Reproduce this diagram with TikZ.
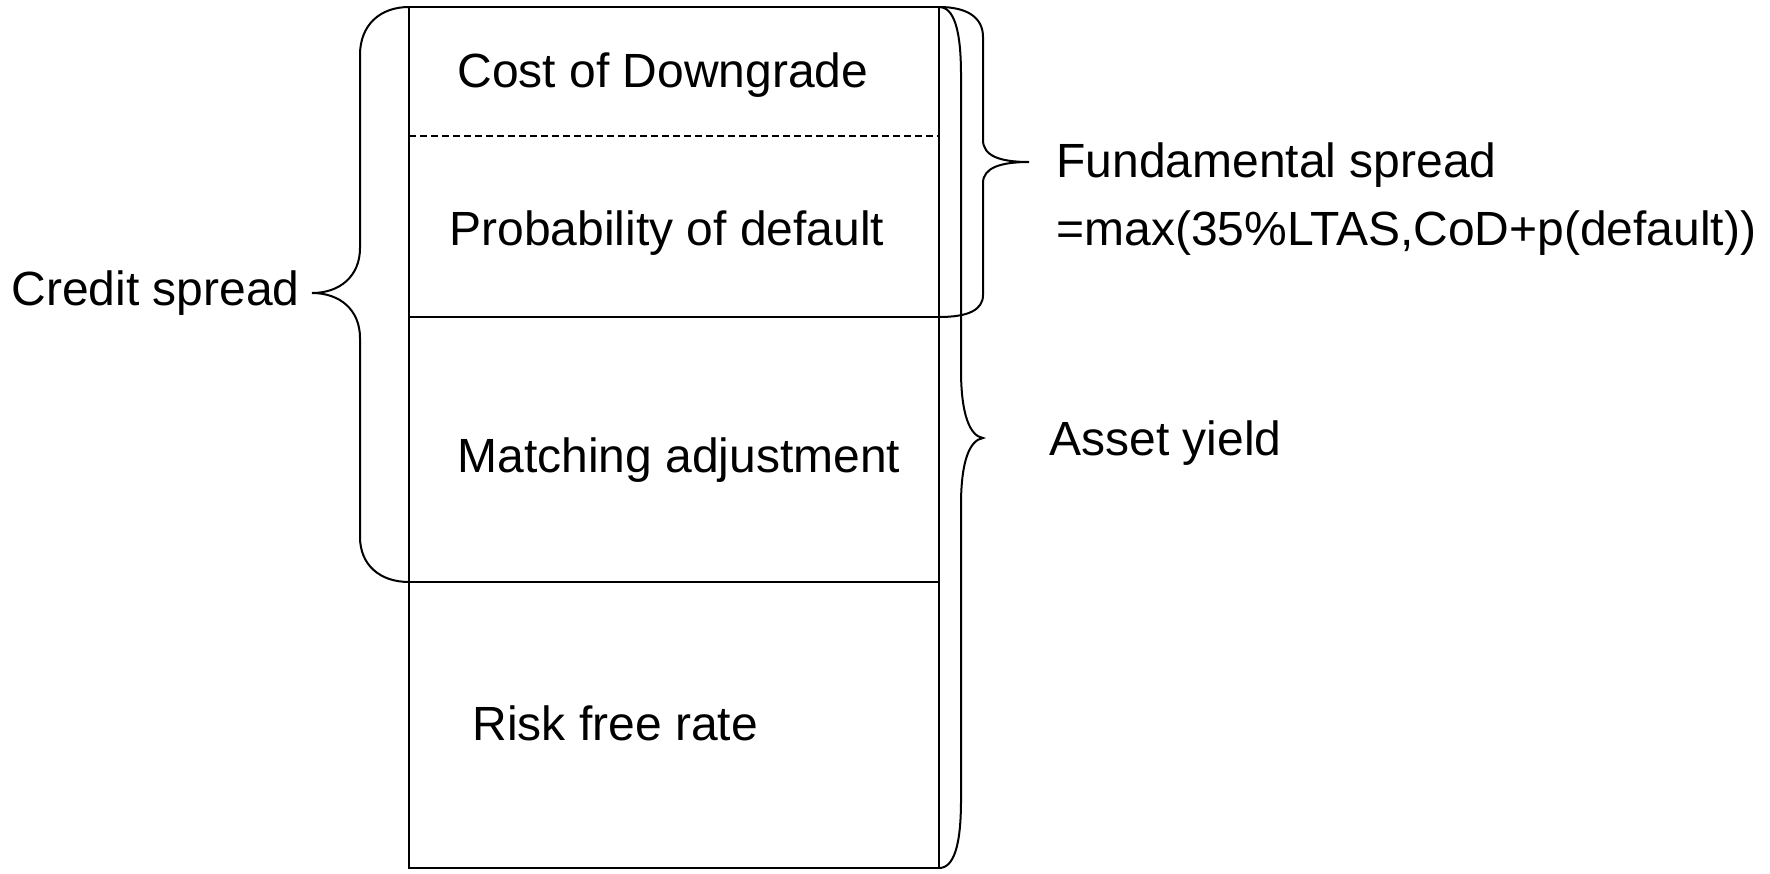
\documentclass[tikz,border=0pt]{standalone}
\usepackage{fontspec}
\setmainfont{Liberation Sans}
\begin{document}
\begin{tikzpicture}[x=0.5pt,y=-0.5pt,
  line/.style={line width=1pt},
  lbl/.style={anchor=base west,inner sep=0pt,font=\fontsize{24pt}{29pt}\selectfont}]
\useasboundingbox (0,0) rectangle (1770,873);
% box
\coordinate (tl) at (409,7);
\coordinate (tr) at (939,7);
\coordinate (bl) at (409,868);
\coordinate (br) at (939,868);
\coordinate (m1l) at (409,317);
\coordinate (m1r) at (939,317);
\coordinate (m2l) at (409,582);
\coordinate (m2r) at (939,582);
\coordinate (dl) at (409,136);
\coordinate (dr) at (939,136);
\draw[line] (tl) rectangle (br);
\draw[line] (m1l) -- (m1r);
\draw[line] (m2l) -- (m2r);
\draw[line width=0.7pt,dash pattern=on 3.5pt off 2pt] (dl) -- (dr);
% labels inside
\node[lbl] (cod) at (457,87) {Cost of Downgrade};
\node[lbl] (pd) at (449,245) {Probability of default};
\node[lbl] (ma) at (457,472) {Matching adjustment};
\node[lbl] (rfr) at (472,740) {Risk free rate};
% outside labels
\node[lbl] (cs) at (11,305) {Credit spread};
\node[lbl] (fs) at (1056,177) {Fundamental spread};
\node[lbl] (fs2) at (1056,245) {=max(35\%LTAS,CoD+p(default))};
\node[lbl] (ay) at (1049,455) {Asset yield};
% credit spread brace
\draw[line] (tl) .. controls (380,7) and (360,25) .. (360,55) -- (360,248)
  .. controls (360,276) and (340,293) .. (312,293)
  .. controls (340,293) and (360,310) .. (360,338) -- (360,537)
  .. controls (360,565) and (380,582) .. (m2l);
% fundamental spread brace
\draw[line] (tr) .. controls (968,7) and (983,18) .. (983,37) -- (983,140)
  .. controls (983,156) and (1000,162) .. (1029,162)
  .. controls (1000,162) and (983,168) .. (983,183) -- (983,295)
  .. controls (983,310) and (968,317) .. (m1r);
% asset yield brace
\draw[line] (tr) .. controls (954,7) and (961,30) .. (961,75) -- (961,370)
  .. controls (961,415) and (970,436) .. (983,438)
  .. controls (970,440) and (961,460) .. (961,505) -- (961,800)
  .. controls (961,845) and (954,868) .. (br);
\end{tikzpicture}
\end{document}
